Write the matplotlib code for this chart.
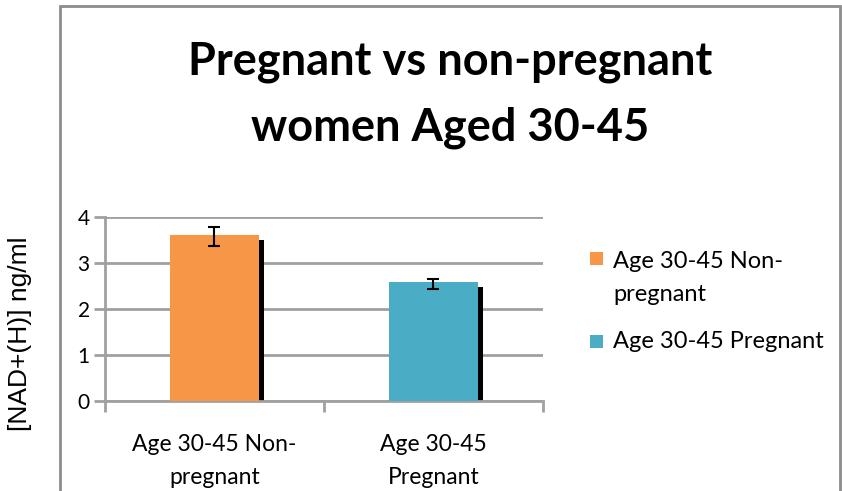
import matplotlib
matplotlib.use("Agg")
import matplotlib.pyplot as plt
from matplotlib.patches import Rectangle
import matplotlib.transforms as mtransforms

categories = ["Age 30-45 Non-\npregnant", "Age 30-45\nPregnant"]
legend_labels = ["Age 30-45 Non-\npregnant", "Age 30-45 Pregnant"]
values = [3.6, 2.58]
err_low = [0.22, 0.15]
err_high = [0.18, 0.07]
colors = ["#F79646", "#4BACC6"]
yticks = [0, 1, 2, 3, 4]
title = "Pregnant vs non-pregnant\nwomen Aged 30-45"
ylabel = "[NAD+(H)] ng/ml"

W, H = 842, 491
fig = plt.figure(figsize=(W / 100, H / 100), dpi=100)

# outer chart border
fig.patches.append(Rectangle((59.5 / W, -0.05), (840 - 59.5) / W, (H - 6) / H + 0.05,
                             transform=fig.transFigure, fill=False,
                             edgecolor="#8C8C8C", linewidth=2))

ax = fig.add_axes([105 / W, (H - 401) / H, (543 - 105) / W, (401 - 217) / H])
x = list(range(len(values)))
bw = 0.41
# shadow
shadow_tr = ax.transData + mtransforms.ScaledTranslation(5 / 100, -5 / 100, fig.dpi_scale_trans)
for xi, v in zip(x, values):
    ax.bar(xi, v, width=bw, color="black", transform=shadow_tr, zorder=2, clip_on=True)
ax.bar(x, values, width=bw, color=colors, zorder=3)
ax.errorbar(x, values, yerr=[err_low, err_high], fmt="none", ecolor="black",
            elinewidth=1.5, capsize=4.5, capthick=1.5, zorder=4)

ax.set_xlim(-0.5, 1.5)
ax.set_ylim(0, 4)
ax.set_yticks(yticks)
ax.set_yticklabels([str(t) for t in yticks], fontsize=15, family="Lato")
ax.yaxis.grid(True, color="#A0A0A0", linewidth=2)
ax.set_axisbelow(True)
ax.tick_params(axis="y", length=8, width=2, color="#A0A0A0", pad=3)
ax.set_xticks([-0.5, 0.5, 1.5])
ax.set_xticklabels([])
ax.tick_params(axis="x", length=8, width=2, color="#A0A0A0")
for i, c in enumerate(categories):
    ax.text(i, (401 - 461) / 46, c, ha="center", va="center", fontsize=16.5, family="Lato",
            linespacing=1.75, transform=ax.transData, clip_on=False)
for s in ["top", "right"]:
    ax.spines[s].set_visible(False)
for s in ["left", "bottom"]:
    ax.spines[s].set_color("#A0A0A0")
    ax.spines[s].set_linewidth(2)

fig.text(20 / W, 1 - 334 / H, ylabel, rotation=90, ha="center", va="center",
         fontsize=19, family="Liberation Sans")
fig.text(450 / W, 1 - 95 / H, title, ha="center", va="center", fontsize=32.5,
         fontweight="bold", family="Lato", linespacing=1.7)

# legend (manual, Excel style)
leg_y = [278, 341]
sq_y = [252, 335]
for c, lab, ty, sy in zip(colors, legend_labels, leg_y, sq_y):
    fig.patches.append(Rectangle((590 / W, 1 - (sy + 13) / H), 13 / W, 13 / H,
                                 transform=fig.transFigure, facecolor=c, edgecolor="none"))
    fig.text(613 / W, 1 - ty / H, lab, ha="left", va="center", fontsize=17,
             family="Lato", linespacing=1.65)

fig.savefig("out.png", dpi=100)
